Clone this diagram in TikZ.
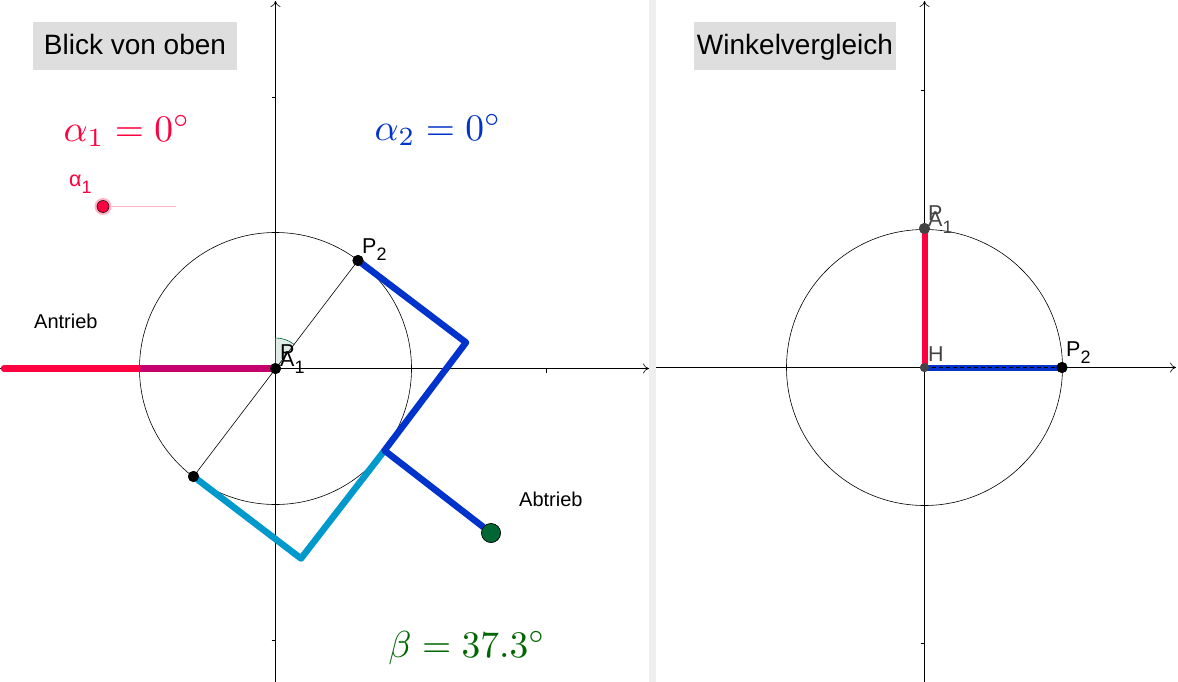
\documentclass[tikz,border=0pt]{standalone}
\usepackage{amsmath,amssymb}
\usepackage{xcolor}
\usepackage{fontspec}
\setsansfont{Liberation Sans}
\usetikzlibrary{arrows.meta,positioning,calc}
\definecolor{antrieb}{HTML}{FF0040}
\definecolor{abtrieb}{HTML}{0033CC}
\definecolor{mittel}{HTML}{0099CC}
\definecolor{overlap}{HTML}{C4006C}
\definecolor{winkel}{HTML}{006633}
\definecolor{betatext}{HTML}{006600}
\definecolor{titlebg}{HTML}{DEDEDE}
\definecolor{divider}{HTML}{EEEEEE}
\definecolor{pointgray}{HTML}{444444}
\newcommand{\sublabel}[2]{#1\raisebox{-7.5pt}{\fontsize{18}{18}\selectfont #2}}

\begin{document}
\begin{tikzpicture}[
    x=1pt, y=-1pt,
    font=\sffamily,
    axis/.style={-{To[length=6pt,width=10pt]}, line width=0.6pt},
    tick/.style={line width=0.5pt},
    circ/.style={draw, circle, line width=0.6pt, inner sep=0pt},
    thin line/.style={line width=0.6pt},
    bar/.style={line width=6.5pt, line cap=round, line join=round},
    titlebox/.style={fill=titlebg, inner sep=0pt, minimum height=48pt, text height=20pt, text depth=2pt, font=\sffamily\fontsize{28}{28}\selectfont},
    pt/.style={circle, fill=black, inner sep=0pt, minimum size=11pt},
    plabel/.style={inner sep=0pt, font=\sffamily\fontsize{21.5}{21.5}\selectfont},
    small/.style={inner sep=0pt, font=\sffamily\fontsize{20}{20}\selectfont},
    formula/.style={inner sep=0pt, scale=3.75}
]
\useasboundingbox (0,0) rectangle (1178,682);
\fill[white] (0,0) rectangle (1178,682);
\fill[divider] (649,0) rectangle (656,682);

% left view
\coordinate (yLbot) at (275.5,682);
\coordinate (yLtop) at (275.5,1);
\coordinate (xLleft) at (0,368.5);
\coordinate (xLright) at (649,368.5);
\draw[axis] (yLbot) -- (yLtop);
\draw[axis] (xLleft) -- (xLright);
\draw[tick] (271.5,97) -- (275.5,97);
\draw[tick] (271.5,640) -- (275.5,640);
\draw[tick] (546,368.5) -- (546,372.5);

\node[circ, minimum size=272pt] (kreisL) at (275.5,368.5) {};

\node[pt] (A1) at (275.5,368.5) {};
\node[pt] (P2) at (358,260.5) {};
\node[pt] (Q2) at (193.5,476.5) {};
\coordinate (antriebEnd) at (4,368.5);
\coordinate (knick) at (466,342.5);
\coordinate (mitte) at (384.5,450.5);
\coordinate (unten) at (301,558.5);

\fill[winkel!12] (A1.center) -- (275.5,338) arc[start angle=90, end angle=52, radius=30.5pt] -- cycle;
\draw[winkel, line width=0.6pt] (A1.center) -- (275.5,338) arc[start angle=90, end angle=52, radius=30.5pt];
\draw[thin line] (P2) -- (Q2);

\draw[bar, antrieb] (antriebEnd) -- (139.5,368.5);
\draw[bar, overlap, line cap=butt] (139.5,368.5) -- (A1.center);
\draw[bar, mittel] (Q2.center) -- (unten) -- (mitte);
\node[circle, fill=winkel, draw=black, line width=0.5pt, inner sep=0pt, minimum size=19pt] (abtriebEnd) at (491,533) {};
\draw[bar, abtrieb] (P2.center) -- (knick) -- (mitte) -- (abtriebEnd);
\node[circle, fill=winkel, draw=black, line width=0.5pt, inner sep=0pt, minimum size=19pt] at (abtriebEnd) {};
\node[pt] at (P2) {};
\node[pt] at (Q2) {};
\node[pt] at (A1) {};

\node[plabel, anchor=base west] at (362,253) {\sublabel{P}{2}};
\node[plabel, anchor=base west] at (280,359) {P};
\node[plabel, anchor=base west] at (280,366) {\sublabel{A}{1}};
\node[small, anchor=base west] (antriebL) at (34,328) {Antrieb};
\node[small, anchor=base west] (abtriebL) at (519,506) {Abtrieb};

\node[titlebox, minimum width=204pt] (titelL) at (135,46) {Blick von oben};
\node[formula, text=antrieb] (alpha1) at (127,131) {$\alpha_1 = 0^{\circ}$};
\node[formula, text=abtrieb] (alpha2) at (438,130) {$\alpha_2 = 0^{\circ}$};
\node[formula, text=betatext] (beta) at (467,648) {$\beta = 37.3^{\circ}$};

% slider
\coordinate (sliderEnd) at (176,206.5);
\node[circle, fill=antrieb!30, inner sep=0pt, minimum size=17pt] (slider) at (103,206.5) {};
\draw[antrieb!30, line width=0.7pt] (slider) -- (sliderEnd);
\node[circle, fill=antrieb, draw=black, line width=0.5pt, inner sep=0pt, minimum size=12pt] at (slider) {};
\node[plabel, text=antrieb, anchor=base west] at (69,186) {\sublabel{α}{1}};

% right view
\coordinate (yRbot) at (924.5,682);
\coordinate (yRtop) at (924.5,1);
\coordinate (xRleft) at (656,367.5);
\coordinate (xRright) at (1176,367.5);
\draw[axis] (yRbot) -- (yRtop);
\draw[axis] (xRleft) -- (xRright);
\draw[tick] (920.5,90) -- (924.5,90);
\draw[tick] (920.5,643) -- (924.5,643);

\node[circ, minimum size=276pt] (kreisR) at (924.5,367.5) {};

\node[pt, fill=pointgray, minimum size=9pt] (H) at (924.5,367.5) {};
\node[pt, fill=pointgray, minimum size=11pt] (A1R) at (924.5,228.5) {};
\node[pt] (P2R) at (1062,367.5) {};

\draw[line width=6pt, antrieb] (A1R.center) -- (H.center);
\draw[line width=6pt, abtrieb] (H.center) -- (P2R.center);
\draw[line width=1pt, black, dash pattern=on 4pt off 3pt] (H.center) -- (P2R.center);
\node[pt, fill=pointgray, minimum size=9pt] at (H) {};
\node[pt, fill=pointgray, minimum size=11pt] at (A1R) {};
\node[pt] at (P2R) {};

\node[plabel, anchor=base west] at (1066,356) {\sublabel{P}{2}};
\node[plabel, text=pointgray, anchor=base west] at (928,361) {H};
\node[plabel, text=pointgray, anchor=base west] at (928,220) {P};
\node[plabel, text=pointgray, anchor=base west] at (928,226) {\sublabel{A}{1}};

\node[titlebox, minimum width=202pt] (titelR) at (795,46) {Winkelvergleich};
\end{tikzpicture}
\end{document}
